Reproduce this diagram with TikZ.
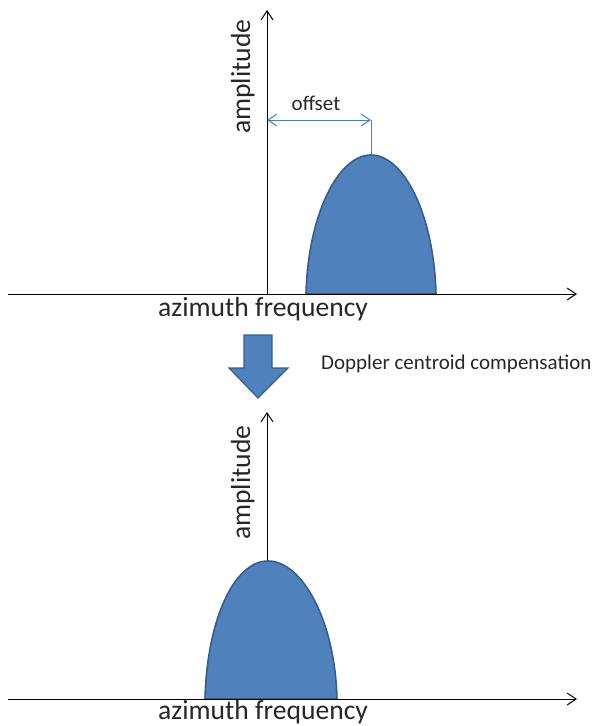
\documentclass[tikz,border=0pt]{standalone}
\usepackage{fontspec}
\setmainfont{Carlito}
\usetikzlibrary{arrows.meta}
\definecolor{lobefill}{RGB}{79,129,189}
\definecolor{lobeedge}{RGB}{56,93,138}
\definecolor{dimline}{RGB}{74,126,187}
\tikzset{
  axis/.style={line width=1pt, -{Straight Barb[length=9pt,width=12pt,line width=1pt]}},
  lobe/.style={fill=lobefill, draw=lobeedge, line width=1.6pt},
  dimarrow/.style={draw=dimline, line width=1pt, {Straight Barb[length=9pt,width=12pt,line width=1pt]}-{Straight Barb[length=9pt,width=12pt,line width=1pt]}},
  axlabel/.style={inner sep=0pt, font=\fontsize{27.6}{30}\selectfont, text=black!85},
  smalllabel/.style={inner sep=0pt, font=\fontsize{21}{24}\selectfont, text=black!85},
  bigarrow/.style={fill=lobefill, draw=lobeedge, line width=1.2pt, line join=miter}
}
\begin{document}
\begin{tikzpicture}[x=1pt, y=-1pt]
\useasboundingbox (0,0) rectangle (597,726);

% ---- upper plot: spectrum with Doppler offset ----
\coordinate (o1) at (267,294);
\coordinate (xa1) at (8,294);
\coordinate (xb1) at (577,294);
\coordinate (ya1) at (267,10);
\draw[axis] (o1) -- (ya1);
\filldraw[lobe] (306,294) .. controls (308,215) and (338,155) .. (371,155)
  coordinate (peak1) .. controls (404,155) and (434,215) .. (436,294) -- cycle;
\draw[axis] (xa1) -- (xb1);
\coordinate (dimL) at (267,120);
\coordinate (dimR) at (371,120);
\draw[draw=dimline, line width=1pt] (peak1) -- (dimR);
\draw[dimarrow] (dimL) -- (dimR);
\node[smalllabel] (offs) at (316,103) {offset};
\node[axlabel, rotate=90, anchor=base west] (amp1) at (250,134) {amplitude};
\node[axlabel, anchor=base west] (freq1) at (158,316) {azimuth frequency};

% ---- transition arrow ----
\draw[bigarrow] (244,335) -- (272,335) -- (272,368) -- (288,368) -- (258,398)
  -- (229,368) -- (244,368) -- cycle;
\node[smalllabel, anchor=west] (doppler) at (321,364) {Doppler centroid compensation};

% ---- lower plot: compensated spectrum ----
\coordinate (o2) at (267,699);
\coordinate (xa2) at (8,699);
\coordinate (xb2) at (577,699);
\coordinate (ya2) at (267,412);
\draw[axis] (o2) -- (ya2);
\filldraw[lobe] (205,699) .. controls (207,620) and (234,561) .. (268,561)
  .. controls (302,561) and (335,620) .. (337,699) -- cycle;
\draw[axis] (xa2) -- (xb2);
\node[axlabel, rotate=90, anchor=base west] (amp2) at (250,540) {amplitude};
\node[axlabel, anchor=base west] (freq2) at (158,719) {azimuth frequency};
\end{tikzpicture}
\end{document}
